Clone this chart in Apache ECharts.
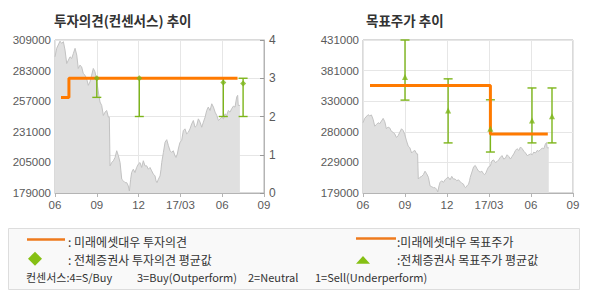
<!DOCTYPE html>
<html><head><meta charset="utf-8">
<script src="https://cdn.jsdelivr.net/npm/echarts@6.0.0/dist/echarts.min.js"></script>
<style>html,body{margin:0;padding:0;background:#fff}#c{width:590px;height:300px}</style>
</head><body><div id="c"></div><script>
// ---- data (x = months since 2016-06) ----
const xTickLabels = ['06', '09', '12', '17/03', '06', '09'];
const leftPriceTicks = [179000, 205000, 231000, 257000, 283000, 309000];
const rightPriceTicks = [179000, 229000, 280000, 330000, 381000, 431000];
const opinionTicks = [0, 1, 2, 3, 4];

const priceMonths = [0.00,0.12,0.36,0.48,0.60,0.72,0.84,0.96,1.08,1.20,1.32,1.44,1.56,1.67,1.79,1.91,2.03,2.15,2.27,2.39,2.51,2.63,2.75,2.87,2.99,3.11,3.23,3.35,3.47,3.59,3.71,3.83,3.90,3.95,4.07,4.19,4.31,4.43,4.55,4.67,4.79,4.91,5.03,5.15,5.26,5.34,5.43,5.50,5.62,5.74,5.86,5.98,6.10,6.22,6.34,6.46,6.58,6.70,6.82,6.94,7.06,7.18,7.25,7.32,7.42,7.54,7.61,7.66,7.78,7.90,8.02,8.14,8.26,8.37,8.49,8.61,8.68,8.78,8.85,8.97,9.09,9.21,9.33,9.45,9.57,9.69,9.81,9.93,10.05,10.17,10.29,10.41,10.53,10.65,10.77,10.89,11.00,11.13,11.25,11.37,11.49,11.61,11.73,11.85,11.97,12.09,12.20,12.32,12.44,12.56,12.68,12.80,12.92,13.04,13.11,13.15,13.27];
const priceValues = [294700,301900,308000,306100,307600,300400,289000,291900,294700,293300,297600,301900,296200,284800,287600,286200,280500,279100,276200,270500,273400,279100,284800,281900,274800,264800,256300,253400,244900,247700,249100,243400,243400,202100,204900,206400,209200,214900,210600,204900,190700,189300,187800,187800,185000,180700,190700,196400,199200,196400,200700,203500,204900,200700,206400,202000,202100,199200,200700,197800,195000,193500,189300,187800,190700,193500,199200,204900,213500,222100,224300,219200,214900,213500,214900,210600,209200,212100,216400,222100,223500,232000,233500,229200,230600,233500,237700,240600,234900,236300,242000,239200,234900,239200,243400,249100,252000,249100,254800,252000,247700,244900,240600,242000,243400,242000,246300,244900,249100,247700,250600,252800,252000,260500,262000,253400,253400];

// 미래에셋대우 투자의견 (step)
const opinionMonths = [0.43, 1.0, 13.1];
const opinionValues = [2.5, 3, 3];
// 전체증권사 투자의견 (range + mean)
const consMonths = [3.0, 6.05, 12.08, 13.5];
const consLow = [2.5, 2, 2, 2];
const consHigh = [3, 3, 3, 3];
const consMean = [3, 3, 2.89, 2.86];

// 미래에셋대우 목표주가 (step)
const targetMonths = [0.5, 9.1, 13.2];
const targetValues = [356000, 276000, 276000];
// 전체증권사 목표주가 (range + mean)
const tgtConsMonths = [3.0, 6.08, 9.1, 12.07, 13.5];
const tgtConsLow = [332000, 261500, 246500, 261500, 261500];
const tgtConsHigh = [431000, 367000, 332500, 352000, 352000];
const tgtConsMean = [370000, 315000, 285000, 298500, 305500];

const titles = ['투자의견(컨센서스) 추이', '목표주가 추이'];
const legendLabels = [': 미래에셋대우 투자의견', ': 전체증권사 투자의견 평균값', ':미래에셋대우 목표주가', ':전체증권사 목표주가 평균값'];
const consensusNote = ['컨센서스:4=S/Buy', '3=Buy(Outperform)', '2=Neutral', '1=Sell(Underperform)'];

// ---- styling ----
const FONT = '"Noto Sans CJK KR", "Noto Sans", sans-serif';
const NUMFONT = '"Liberation Sans", Arial, sans-serif';
const ORANGE = '#ff7a00', GREEN = '#7db51a', AXIS = '#b4b4b4', GRID = '#e6e6e6', LABEL = '#5a5a5a';

const baseL = leftPriceTicks[0], spanL = leftPriceTicks[5] - baseL;
const baseR = rightPriceTicks[0], spanR = rightPriceTicks[5] - baseR;

function errBar(params, api) {
  const x = api.value(0);
  const p1 = api.coord([x, api.value(2)]);
  const p2 = api.coord([x, api.value(1)]);
  const w = 4.5;
  const st = { stroke: GREEN, lineWidth: 1.4 };
  return { type: 'group', children: [
    { type: 'line', shape: { x1: p1[0], y1: p1[1], x2: p2[0], y2: p2[1] }, style: st },
    { type: 'line', shape: { x1: p1[0] - w, y1: p1[1], x2: p1[0] + w, y2: p1[1] }, style: st },
    { type: 'line', shape: { x1: p2[0] - w, y1: p2[1], x2: p2[0] + w, y2: p2[1] }, style: st }
  ]};
}

const xAxes = [0, 1].map(i => ({
  type: 'value', gridIndex: i, min: 0, max: 15, interval: 3,
  axisLine: { show: true, lineStyle: { color: AXIS } },
  axisTick: { show: true, length: 4, lineStyle: { color: AXIS } },
  axisLabel: { margin: 6, color: LABEL, fontSize: 11.5, fontFamily: NUMFONT,
    formatter: v => xTickLabels[Math.round(v / 3)] },
  splitLine: { show: true, lineStyle: { color: GRID } }
}));

const legText = (x, y, t, size) => ({ type: 'text', x: x, y: y,
  style: { text: t, fill: '#333', font: size + 'px ' + FONT, lineHeight: size + 1, verticalAlign: 'middle' } });

const chart = echarts.init(document.getElementById('c'), null, { renderer: 'svg' });
chart.setOption({
  animation: false,
  backgroundColor: '#fff',
  grid: [
    { left: 55, top: 40, width: 209, height: 153, show: true, borderColor: AXIS, borderWidth: 1, backgroundColor: 'transparent' },
    { left: 363, top: 40, width: 210, height: 153, show: true, borderColor: AXIS, borderWidth: 1, backgroundColor: 'transparent' }
  ],
  xAxis: xAxes,
  yAxis: [
    { type: 'value', gridIndex: 0, position: 'left', min: 0, max: spanL, interval: spanL / 5,
      axisLine: { show: false }, axisTick: { show: false }, splitLine: { show: false },
      axisLabel: { margin: 4, color: LABEL, fontSize: 11.5, fontFamily: NUMFONT,
        formatter: v => String(leftPriceTicks[Math.round(v / (spanL / 5))]) } },
    { type: 'value', gridIndex: 0, position: 'right', min: 0, max: 4, interval: 1,
      axisLine: { show: true, lineStyle: { color: AXIS } },
      axisTick: { show: true, inside: true, length: 4, lineStyle: { color: '#999' } },
      splitLine: { show: true, lineStyle: { color: GRID } },
      axisLabel: { margin: 5, color: LABEL, fontSize: 12, fontFamily: NUMFONT,
        formatter: v => String(opinionTicks[Math.round(v)]) } },
    { type: 'value', gridIndex: 1, position: 'left', min: 0, max: spanR, interval: spanR / 5,
      axisLine: { show: false }, axisTick: { show: false },
      splitLine: { show: true, lineStyle: { color: GRID } },
      axisLabel: { margin: 4, color: LABEL, fontSize: 11.5, fontFamily: NUMFONT,
        formatter: v => String(rightPriceTicks[Math.round(v / (spanR / 5))]) } }
  ],
  series: [
    { type: 'line', xAxisIndex: 0, yAxisIndex: 0, showSymbol: false, z: 1,
      data: priceMonths.map((m, i) => [m, priceValues[i] - baseL]),
      lineStyle: { color: '#c2c2c2', width: 1 }, areaStyle: { color: '#e0e0e0', opacity: 1 } },
    { type: 'custom', xAxisIndex: 0, yAxisIndex: 1, z: 2, renderItem: errBar,
      data: consMonths.map((m, i) => [m, consLow[i], consHigh[i]]) },
    { type: 'line', xAxisIndex: 0, yAxisIndex: 1, step: 'end', showSymbol: false, z: 3,
      data: opinionMonths.map((m, i) => [m, opinionValues[i]]),
      lineStyle: { color: ORANGE, width: 3 } },
    { type: 'scatter', xAxisIndex: 0, yAxisIndex: 1, symbol: 'diamond', symbolSize: 6, z: 4,
      itemStyle: { color: GREEN },
      data: consMonths.map((m, i) => [m, consMean[i]]) },

    { type: 'line', xAxisIndex: 1, yAxisIndex: 2, showSymbol: false, z: 1,
      data: priceMonths.map((m, i) => [m, priceValues[i] - baseR]),
      lineStyle: { color: '#c2c2c2', width: 1 }, areaStyle: { color: '#e0e0e0', opacity: 1 } },
    { type: 'custom', xAxisIndex: 1, yAxisIndex: 2, z: 2, renderItem: errBar,
      data: tgtConsMonths.map((m, i) => [m, tgtConsLow[i] - baseR, tgtConsHigh[i] - baseR]) },
    { type: 'line', xAxisIndex: 1, yAxisIndex: 2, step: 'end', showSymbol: false, z: 3,
      data: targetMonths.map((m, i) => [m, targetValues[i] - baseR]),
      lineStyle: { color: ORANGE, width: 3 } },
    { type: 'scatter', xAxisIndex: 1, yAxisIndex: 2, symbol: 'triangle', symbolSize: 6, z: 4,
      itemStyle: { color: GREEN },
      data: tgtConsMonths.map((m, i) => [m, tgtConsMean[i] - baseR]) }
  ],
  graphic: [
    { type: 'text', x: 54, y: 20, style: { text: titles[0], fill: '#333', font: 'bold 13.5px ' + FONT, verticalAlign: 'middle' } },
    { type: 'text', x: 366, y: 20, style: { text: titles[1], fill: '#333', font: 'bold 13.5px ' + FONT, verticalAlign: 'middle' } },
    { type: 'rect', shape: { x: 8.5, y: 228.5, width: 571, height: 61 }, style: { fill: '#f9f9f9', stroke: '#dddddd', lineWidth: 1 }, z: -1 },
    { type: 'line', shape: { x1: 27, y1: 239.5, x2: 65, y2: 239.5 }, style: { stroke: '#ee7a1d', lineWidth: 2.5 } },
    legText(68, 241.5, legendLabels[0], 12),
    { type: 'polygon', shape: { points: [[35, 251.7], [42, 258.7], [35, 265.7], [28, 258.7]] }, style: { fill: '#86c014' } },
    legText(68, 259, legendLabels[1], 12),
    { type: 'line', shape: { x1: 356, y1: 238.5, x2: 396, y2: 238.5 }, style: { stroke: '#ee7a1d', lineWidth: 2.5 } },
    legText(397, 241, legendLabels[2], 12),
    { type: 'polygon', shape: { points: [[356, 263.7], [370, 263.7], [363, 256]] }, style: { fill: '#86c014' } },
    legText(397, 259, legendLabels[3], 12),
    legText(26, 276.5, consensusNote[0], 11),
    legText(137, 276.5, consensusNote[1], 11),
    legText(248, 276.5, consensusNote[2], 11),
    legText(315, 276.5, consensusNote[3], 11)
  ]
});
</script></body></html>
